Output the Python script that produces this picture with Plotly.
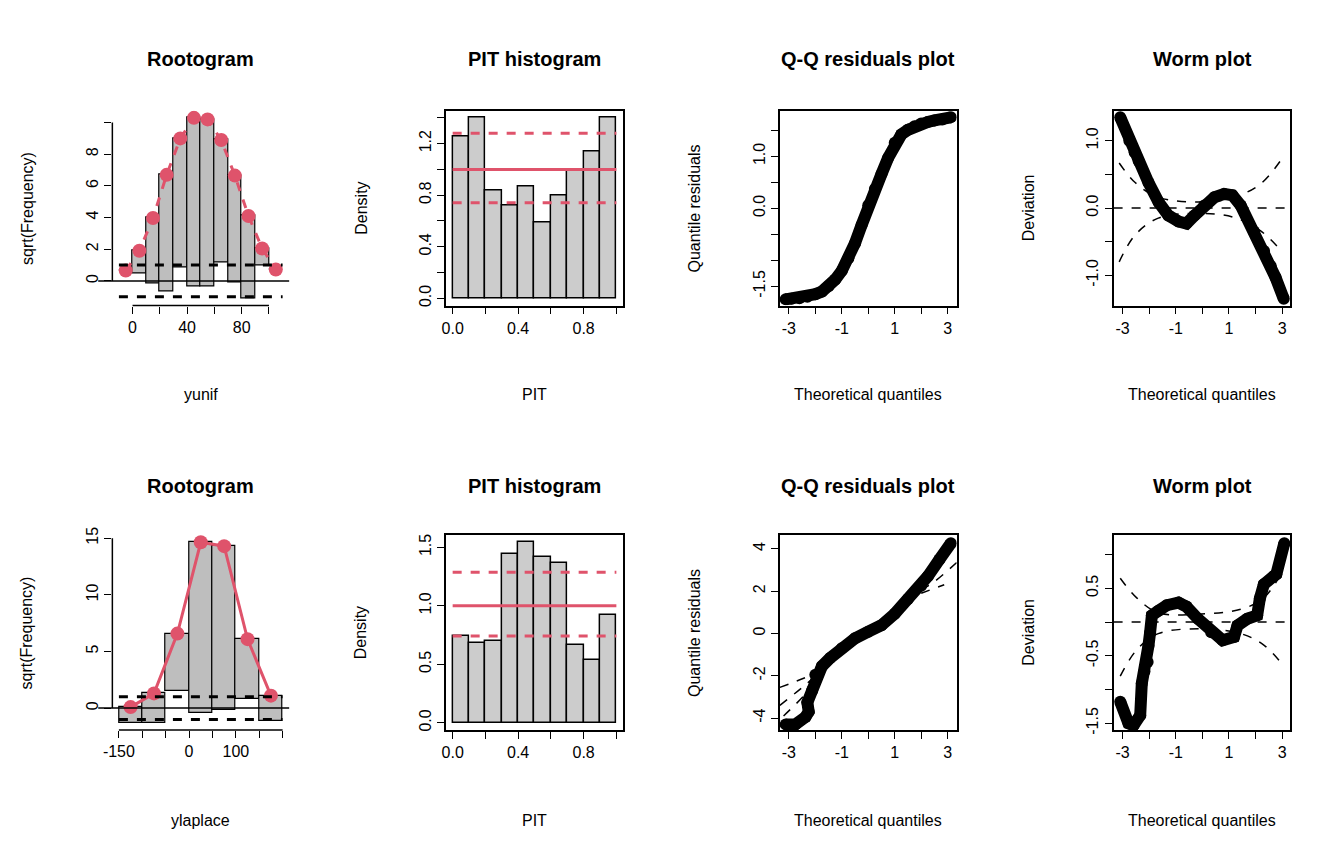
import plotly.graph_objects as go

W, H = 1344, 864
RED = "#DF536B"
FONT = "Liberation Sans"
OFF = 8  # page body margin of the browser

# ---- Rootogram (top: yunif) ----
root1_mid = [-5, 5, 15, 25, 35, 45, 55, 65, 75, 85, 95, 105]
root1_expected = [0.66, 1.9, 3.97, 6.7, 9.0, 10.3, 10.2, 8.9, 6.65, 4.1, 2.05, 0.72]
root1_bottom = [0.66, 0.45, -0.17, -0.68, 0.87, -0.37, -0.33, 1.18, -0.12, -1.1, 0.97, 0.72]
root1_xticks = [0, 20, 40, 60, 80, 100]
root1_xtext = ["0", "", "40", "", "80", ""]
root1_yticks = [0, 2, 4, 6, 8, 10]
root1_ytext = ["0", "2", "4", "6", "8", ""]

# ---- Rootogram (bottom: ylaplace) ----
root2_mid = [-125, -75, -25, 25, 75, 125, 175]
root2_expected = [0.09, 1.3, 6.58, 14.64, 14.3, 6.09, 1.1]
root2_bottom = [-1.3, -1.3, 1.54, -0.43, -0.14, 0.78, -1.16]
root2_xticks = [-150, -100, -50, 0, 50, 100, 150, 200]
root2_xtext = ["-150", "", "", "0", "", "100", "", ""]
root2_yticks = [0, 5, 10, 15]

# ---- PIT histograms ----
pit_mid = [0.05, 0.15, 0.25, 0.35, 0.45, 0.55, 0.65, 0.75, 0.85, 0.95]
pit1_density = [1.256, 1.40, 0.838, 0.719, 0.863, 0.585, 0.80, 1.0, 1.14, 1.40]
pit1_ref = [1.0, 0.742, 1.28]
pit2_density = [0.742, 0.678, 0.70, 1.445, 1.543, 1.42, 1.364, 0.661, 0.538, 0.92]
pit2_ref = [1.0, 0.742, 1.288]
pit_xticks = [0, 0.2, 0.4, 0.6, 0.8, 1.0]
pit_xtext = ["0.0", "", "0.4", "", "0.8", ""]
pit1_yticks = [0, 0.2, 0.4, 0.6, 0.8, 1.0, 1.2, 1.4]
pit1_ytext = ["0.0", "", "0.4", "", "0.8", "", "1.2", ""]
pit2_yticks = [0, 0.5, 1.0, 1.5]
pit2_ytext = ["0.0", "0.5", "1.0", "1.5"]

# ---- Q-Q residuals ----
qq1_x = [-3.12, -2.9, -2.6, -2.3, -2.0, -1.75, -1.5, -1.25, -1.0, -0.75, -0.5, -0.25, 0.0,
         0.25, 0.5, 0.75, 1.0, 1.25, 1.5, 1.75, 2.0, 2.25, 2.5, 2.8, 3.12]
qq1_y = [-1.75, -1.74, -1.73, -1.7, -1.65, -1.6, -1.5, -1.37, -1.2, -0.96, -0.67, -0.32, 0.06,
         0.37, 0.66, 0.97, 1.26, 1.42, 1.51, 1.58, 1.63, 1.66, 1.69, 1.71, 1.75]
qq2_x = [-3.12, -2.75, -2.37, -2.25, -2.3, -2.12, -2.0, -1.75, -1.44, -1.0, -0.5, 0.0,
         0.5, 1.0, 1.5, 2.0, 2.25, 2.69, 3.12]
qq2_y = [-4.3, -4.3, -3.95, -3.7, -3.26, -2.7, -1.95, -1.55, -1.16, -0.7, -0.23, 0.08,
         0.39, 0.93, 1.63, 2.25, 2.7, 3.5, 4.26]
qq2_bands = [
    ([-3.34, -2.7, -2.0], [-2.55, -2.25, -1.9]),
    ([-3.34, -2.3, -2.0], [-3.4, -2.35, -2.0]),
    ([-3.2, -2.4, -2.1], [-3.9, -2.9, -2.4]),
    ([2.0, 2.5, 3.34], [2.05, 2.45, 3.35]),
    ([2.0, 2.87], [1.9, 2.3]),
]
qq_xticks = [-3, -2, -1, 0, 1, 2, 3]
qq_xtext = ["-3", "", "-1", "", "1", "", "3"]
qq1_yticks = [-1.5, -1.0, -0.5, 0.0, 0.5, 1.0, 1.5]
qq1_ytext = ["-1.5", "", "", "0.0", "", "1.0", ""]
qq2_yticks = [-4, -2, 0, 2, 4]

# ---- Worm plots ----
worm1_x = [-3.09, -2.75, -2.55, -2.4, -2.03, -1.65, -1.28, -0.9, -0.6, -0.3, 0.07, 0.45,
           0.82, 1.13, 1.44, 1.94, 2.32, 2.57, 2.75, 3.06]
worm1_y = [1.35, 1.0, 0.83, 0.70, 0.38, 0.09, -0.11, -0.2, -0.23, -0.11, 0.04, 0.16,
           0.21, 0.19, 0.04, -0.35, -0.64, -0.86, -1.03, -1.35]
worm1_band_x = [-3.13, -2.53, -1.66, -0.05, 1.19, 2.19, 2.93]
worm1_band_up = [0.67, 0.38, 0.16, 0.09, 0.16, 0.36, 0.70]
worm1_band_lo = [-0.80, -0.40, -0.15, -0.08, -0.14, -0.34, -0.62]
worm2_x = [-3.09, -2.78, -2.59, -2.34, -2.28, -2.18, -2.06, -2.03, -1.97, -1.9, -1.65, -1.34,
           -0.9, -0.6, -0.17, 0.33, 0.76, 1.19, 1.32, 1.69, 2.06, 2.16, 2.31, 2.68, 2.78, 3.08]
worm2_y = [-1.18, -1.5, -1.53, -1.38, -0.91, -0.73, -0.59, -0.35, -0.16, 0.10, 0.17, 0.25,
           0.29, 0.23, 0.05, -0.15, -0.27, -0.22, -0.05, 0.05, 0.10, 0.35, 0.56, 0.68, 0.71, 1.17]
worm2_band_x = [-3.09, -2.47, -1.66, -0.05, 1.44, 2.31, 3.08]
worm2_band_up = [0.65, 0.36, 0.14, 0.12, 0.19, 0.36, 0.80]
worm2_band_lo = [-0.80, -0.41, -0.17, -0.10, -0.17, -0.34, -0.66]
worm1_yticks = [-1.0, -0.5, 0.0, 0.5, 1.0]
worm1_ytext = ["-1.0", "", "0.0", "", "1.0"]
worm2_yticks = [-1.5, -1.0, -0.5, 0.0, 0.5, 1.0]
worm2_ytext = ["-1.5", "", "-0.5", "", "0.5", ""]

titles = ["Rootogram", "PIT histogram", "Q-Q residuals plot", "Worm plot"]
xtitles_top = ["yunif", "PIT", "Theoretical quantiles", "Theoretical quantiles"]
xtitles_bot = ["ylaplace", "PIT", "Theoretical quantiles", "Theoretical quantiles"]
ytitles = ["sqrt(Frequency)", "Density", "Quantile residuals", "Deviation"]

col_left = [104 - OFF, 440 - OFF, 776 - OFF, 1112 - OFF]
pw = 178
row_top = [104 - OFF, 535 - OFF]
ph = 198
title_y = [52 - OFF, 485 - OFF]
xtitle_y = [392 - OFF, 825 - OFF]

fig = go.Figure()

ranges = {
    1: ([-14.8, 114.8], [-1.56, 10.76]),
    2: ([-0.04, 1.04], [-0.056, 1.456]),
    3: ([-3.34, 3.34], [-1.87, 1.88]),
    4: ([-3.34, 3.31], [-1.45, 1.45]),
    5: ([-164, 214], [-1.94, 15.28]),
    6: ([-0.04, 1.04], [-0.062, 1.605]),
    7: ([-3.34, 3.34], [-4.57, 4.65]),
    8: ([-3.34, 3.31], [-1.60, 1.29]),
}
ticks = {
    1: (root1_xticks, root1_xtext, root1_yticks, root1_ytext),
    2: (pit_xticks, pit_xtext, pit1_yticks, pit1_ytext),
    3: (qq_xticks, qq_xtext, qq1_yticks, qq1_ytext),
    4: (qq_xticks, qq_xtext, worm1_yticks, worm1_ytext),
    5: (root2_xticks, root2_xtext, root2_yticks, [str(v) for v in root2_yticks]),
    6: (pit_xticks, pit_xtext, pit2_yticks, pit2_ytext),
    7: (qq_xticks, qq_xtext, qq2_yticks, [str(v) for v in qq2_yticks]),
    8: (qq_xticks, qq_xtext, worm2_yticks, worm2_ytext),
}

layout = {}
annotations = []
shapes = []
for i in range(1, 9):
    r, c = divmod(i - 1, 4)
    x0, x1 = col_left[c] / W, (col_left[c] + pw) / W
    y1, y0 = 1 - row_top[r] / H, 1 - (row_top[r] + ph) / H
    xr, yr = ranges[i]
    xt, xtt, yt, ytt = ticks[i]
    boxed = c != 0
    sfx = "" if i == 1 else str(i)
    common = dict(showgrid=False, zeroline=False, ticks="outside", ticklen=7, tickwidth=1.2,
                  tickcolor="black", linecolor="black", linewidth=1.5,
                  tickfont=dict(family=FONT, size=16, color="black"))
    layout["xaxis" + sfx] = dict(common, domain=[x0, x1], range=xr, anchor="y" + sfx,
                                 tickvals=xt, ticktext=xtt, showline=boxed, mirror=boxed)
    layout["yaxis" + sfx] = dict(common, domain=[y0, y1], range=yr, anchor="x" + sfx,
                                 tickvals=yt, ticktext=ytt, tickangle=-90,
                                 showline=boxed, mirror=boxed)
    xref, yref = "x" + sfx, "y" + sfx
    if not boxed:
        # R-style axis lines spanning only the tick range
        shapes.append(dict(type="line", xref=xref, yref=yref + " domain", x0=xt[0], x1=xt[-1],
                           y0=0, y1=0, line=dict(color="black", width=1.5)))
        shapes.append(dict(type="line", xref=xref + " domain", yref=yref, x0=0, x1=0,
                           y0=yt[0], y1=yt[-1], line=dict(color="black", width=1.5)))
    cx = (x0 + x1) / 2
    annotations.append(dict(text="<b>" + titles[c] + "</b>", x=cx, xref="paper",
                            y=1 - title_y[r] / H, yref="paper", showarrow=False,
                            xanchor="center", yanchor="middle",
                            font=dict(family=FONT, size=20, color="black")))
    xt_list = xtitles_top if r == 0 else xtitles_bot
    annotations.append(dict(text=xt_list[c], x=cx, xref="paper",
                            y=1 - xtitle_y[r] / H, yref="paper", showarrow=False,
                            xanchor="center", yanchor="middle",
                            font=dict(family=FONT, size=16, color="black")))
    annotations.append(dict(text=ytitles[c], x=(col_left[c] - 86) / W, xref="paper",
                            y=(y0 + y1) / 2, yref="paper", showarrow=False, textangle=-90,
                            xanchor="center", yanchor="middle",
                            font=dict(family=FONT, size=16, color="black")))


def add_rootogram(sfx, mids, expected, bottom, width, edges, dash):
    xa, ya = "x" + sfx, "y" + sfx
    fig.add_trace(go.Bar(x=mids, y=[e - b for e, b in zip(expected, bottom)], base=bottom,
                         width=width, marker=dict(color="#BEBEBE", line=dict(color="black", width=1.2)),
                         xaxis=xa, yaxis=ya))
    shapes.append(dict(type="line", xref=xa + " domain", yref=ya, x0=-0.08, x1=1, y0=0, y1=0,
                       line=dict(color="black", width=1.5)))
    for lv in (1, -1):
        shapes.append(dict(type="line", xref=xa, yref=ya, x0=edges[0], x1=edges[1], y0=lv, y1=lv,
                           line=dict(color="black", width=3, dash="dash")))
    fig.add_trace(go.Scatter(x=mids, y=expected, mode="lines+markers", xaxis=xa, yaxis=ya,
                             line=dict(color=RED, width=3, dash=dash),
                             marker=dict(color=RED, size=14)))


def add_pit(sfx, density, ref):
    xa, ya = "x" + sfx, "y" + sfx
    fig.add_trace(go.Bar(x=pit_mid, y=density, width=0.1, xaxis=xa, yaxis=ya,
                         marker=dict(color="#CCCCCC", line=dict(color="black", width=1.5))))
    for k, lv in enumerate(ref):
        shapes.append(dict(type="line", xref=xa, yref=ya, x0=0, x1=1, y0=lv, y1=lv, layer="above",
                           line=dict(color=RED, width=3, dash="solid" if k == 0 else "dash")))


def add_points(sfx, xs, ys):
    fig.add_trace(go.Scatter(x=xs, y=ys, mode="lines+markers", xaxis="x" + sfx, yaxis="y" + sfx,
                             line=dict(color="black", width=12),
                             marker=dict(color="black", size=12)))


def add_dash(sfx, xs, ys):
    fig.add_trace(go.Scatter(x=xs, y=ys, mode="lines", xaxis="x" + sfx, yaxis="y" + sfx,
                             line=dict(color="black", width=1.5, dash="dash", shape="spline")))


add_rootogram("", root1_mid, root1_expected, root1_bottom, 10, (-10, 110), "dash")
add_rootogram("5", root2_mid, root2_expected, root2_bottom, 50, (-150, 200), "solid")
add_pit("2", pit1_density, pit1_ref)
add_pit("6", pit2_density, pit2_ref)

add_points("3", qq1_x, qq1_y)
for bx, by in qq2_bands:
    add_dash("7", bx, by)
add_points("7", qq2_x, qq2_y)

for sfx, bx, up, lo in (("4", worm1_band_x, worm1_band_up, worm1_band_lo),
                        ("8", worm2_band_x, worm2_band_up, worm2_band_lo)):
    add_dash(sfx, bx, up)
    add_dash(sfx, bx, lo)
    shapes.append(dict(type="line", xref="x" + sfx + " domain", yref="y" + sfx, x0=0, x1=1,
                       y0=0, y1=0, line=dict(color="black", width=1.5, dash="dash")))
add_points("4", worm1_x, worm1_y)
add_points("8", worm2_x, worm2_y)

fig.update_layout(**layout)
fig.update_layout(width=W, height=H, showlegend=False, plot_bgcolor="white",
                  paper_bgcolor="white", margin=dict(l=0, r=0, t=0, b=0),
                  annotations=annotations, shapes=shapes, bargap=0,
                  font=dict(family=FONT, color="black"))
fig.write_html("out.html")
